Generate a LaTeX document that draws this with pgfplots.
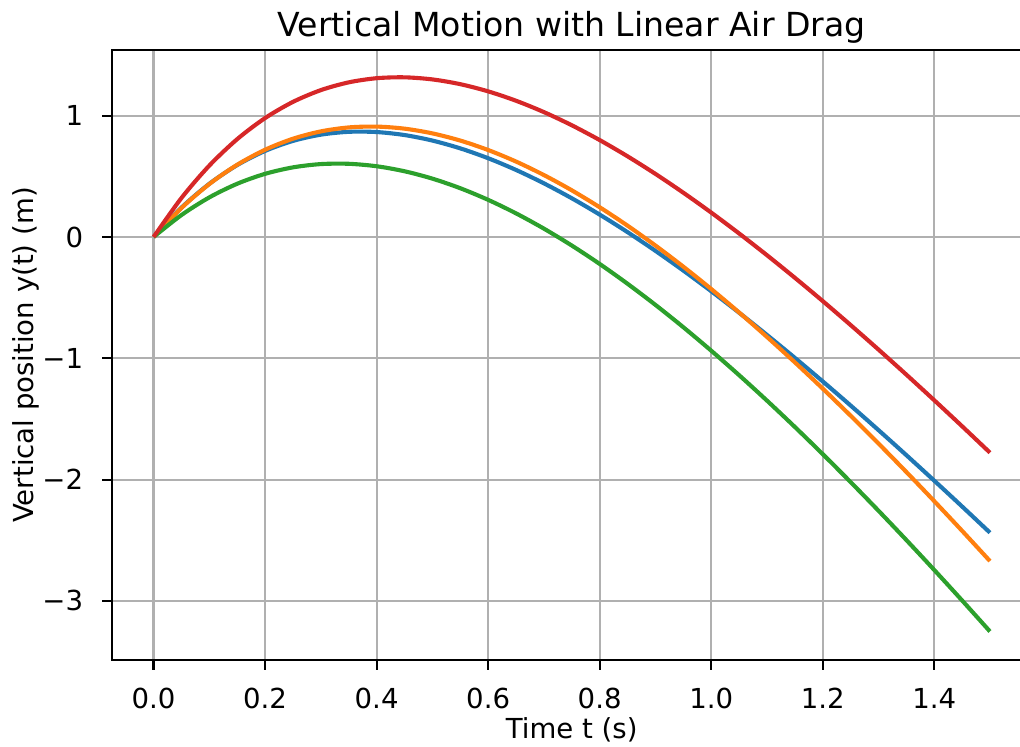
\documentclass[border=0pt]{standalone}
\usepackage{fontspec}
\setmainfont{DejaVu Sans}
\usepackage{pgfplots}
\pgfplotsset{compat=1.18}
\definecolor{tabblue}{HTML}{1F77B4}
\definecolor{taborange}{HTML}{FF7F0E}
\definecolor{tabgreen}{HTML}{2CA02C}
\definecolor{tabred}{HTML}{D62728}
\definecolor{gridgray}{RGB}{176,176,176}

\begin{document}
\begin{tikzpicture}
\begin{axis}[
  name=ax,
  scale only axis, width=414pt, height=274.5pt,
  xmin=-0.075, xmax=1.575, ymin=-3.4866, ymax=1.5413,
  xtick={0,0.2,0.4,0.6,0.8,1.0,1.2,1.4},
  xticklabels={0.0,0.2,0.4,0.6,0.8,1.0,1.2,1.4},
  ytick={-3,-2,-1,0,1},
  yticklabels={−3,−2,−1,0,1},
  tick pos=left, tick align=outside,
  major tick length=4.3pt,
  every tick/.style={black, line width=1pt},
  axis line style={line width=1pt},
  grid=major, major grid style={gridgray, line width=1pt},
  tick label style={font=\fontsize{12.4}{14}\selectfont},
  xticklabel style={anchor=base, yshift=-17.6pt, inner sep=0pt},
  yticklabel style={anchor=east, xshift=-8.4pt, inner sep=0pt},
  xlabel={Time t (s)},
  ylabel={Vertical position y(t) (m)},
  label style={font=\fontsize{12.4}{14}\selectfont, inner sep=0pt},
  xlabel style={at={(axis description cs:0.5,0)}, anchor=base, yshift=-35.5pt},
  ylabel style={at={(axis description cs:-0.0855,0.5)}, anchor=base},
  title={Vertical Motion with Linear Air Drag},
  title style={at={(axis description cs:0.5,1)}, anchor=base, yshift=0pt, inner sep=0pt, font=\fontsize{14.9}{17}\selectfont},
  every axis plot/.append style={line width=1.85pt, smooth, no markers},
]
% blue
\addplot[tabblue] coordinates {
(0,0) (0.05,0.2423) (0.10,0.4385) (0.15,0.5928) (0.20,0.7095) (0.25,0.7919)
(0.30,0.8434) (0.35,0.8669) (0.40,0.8650) (0.45,0.8403) (0.50,0.7948)
(0.55,0.7305) (0.60,0.6493) (0.65,0.5527) (0.70,0.4422) (0.75,0.3192)
(0.80,0.1847) (0.85,0.0400) (0.90,-0.1141) (0.95,-0.2766) (1.00,-0.4467)
(1.05,-0.6237) (1.10,-0.8070) (1.15,-0.9959) (1.20,-1.1899) (1.25,-1.3886)
(1.30,-1.5914) (1.35,-1.7980) (1.40,-2.0081) (1.45,-2.2213) (1.50,-2.4372)
};
% orange
\addplot[taborange] coordinates {
(0,0) (0.05,0.2391) (0.10,0.4366) (0.15,0.5956) (0.20,0.7192) (0.25,0.8099)
(0.30,0.8704) (0.35,0.9031) (0.40,0.9099) (0.45,0.8929) (0.50,0.8540)
(0.55,0.7948) (0.60,0.7169) (0.65,0.6218) (0.70,0.5106) (0.75,0.3848)
(0.80,0.2454) (0.85,0.0934) (0.90,-0.0702) (0.95,-0.2444) (1.00,-0.4286)
(1.05,-0.6218) (1.10,-0.8234) (1.15,-1.0328) (1.20,-1.2494) (1.25,-1.4726)
(1.30,-1.7019) (1.35,-1.9368) (1.40,-2.1769) (1.45,-2.4218) (1.50,-2.6712)
};
% green
\addplot[tabgreen] coordinates {
(0,0) (0.05,0.1810) (0.10,0.3265) (0.15,0.4389) (0.20,0.5206) (0.25,0.5739)
(0.30,0.6009) (0.35,0.6033) (0.40,0.5831) (0.45,0.5418) (0.50,0.4810)
(0.55,0.4020) (0.60,0.3062) (0.65,0.1948) (0.70,0.0689) (0.75,-0.0704)
(0.80,-0.2221) (0.85,-0.3855) (0.90,-0.5595) (0.95,-0.7435) (1.00,-0.9368)
(1.05,-1.1385) (1.10,-1.3483) (1.15,-1.5654) (1.20,-1.7893) (1.25,-2.0196)
(1.30,-2.2558) (1.35,-2.4975) (1.40,-2.7442) (1.45,-2.9956) (1.50,-3.2513)
};
% red
\addplot[tabred] coordinates {
(0,0) (0.05,0.3215) (0.10,0.5887) (0.15,0.8067) (0.20,0.9803) (0.25,1.1136)
(0.30,1.2106) (0.35,1.2746) (0.40,1.3088) (0.45,1.3160) (0.50,1.2988)
(0.55,1.2596) (0.60,1.2003) (0.65,1.1230) (0.70,1.0294) (0.75,0.9209)
(0.80,0.7990) (0.85,0.6650) (0.90,0.5201) (0.95,0.3652) (1.00,0.2014)
(1.05,0.0294) (1.10,-0.1499) (1.15,-0.3359) (1.20,-0.5278) (1.25,-0.7253)
(1.30,-0.9276) (1.35,-1.1344) (1.40,-1.3453) (1.45,-1.5598) (1.50,-1.7776)
};
\end{axis}
\pgfresetboundingbox
\path[use as bounding box] ([shift={(-50.3pt,-38.7pt)}]ax.south west) rectangle ([shift={(408.7pt,22.5pt)}]ax.north west);
\end{tikzpicture}
\end{document}
